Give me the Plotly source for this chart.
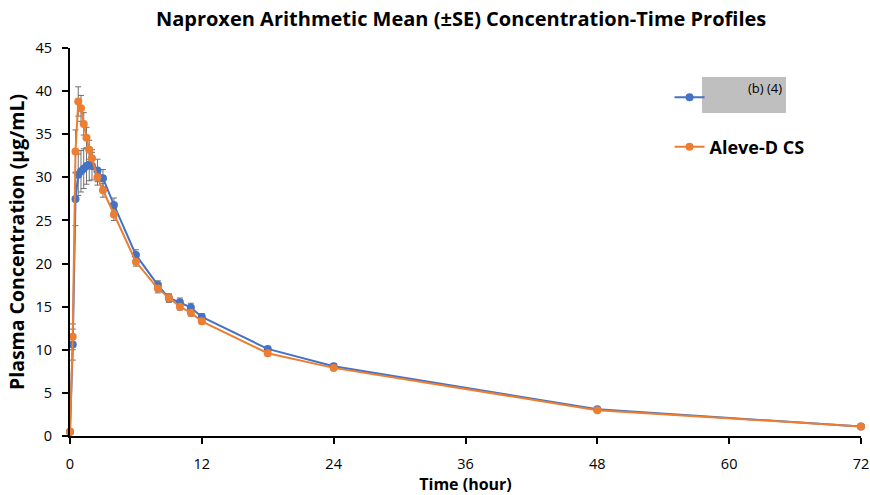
import plotly.graph_objects as go

time_h = [0, 0.25, 0.5, 0.75, 1, 1.25, 1.5, 1.75, 2, 2.5, 3, 4, 6, 8, 9, 10, 11, 12, 18, 24, 48, 72]

blue_mean = [0.5, 10.6, 27.5, 30.3, 30.7, 31.0, 31.3, 31.5, 31.3, 30.8, 29.9, 26.8, 21.0, 17.5, 16.0, 15.5, 14.9, 13.8, 10.1, 8.1, 3.1, 1.1]
blue_se = [0.0, 1.8, 3.1, 2.4, 2.4, 2.3, 2.1, 1.9, 1.6, 1.3, 1.0, 0.8, 0.6, 0.5, 0.5, 0.5, 0.5, 0.4, 0.3, 0.3, 0.2, 0.1]

orange_mean = [0.5, 11.5, 33.0, 38.8, 38.0, 36.2, 34.6, 33.2, 32.2, 30.0, 28.5, 25.7, 20.2, 17.1, 16.0, 15.0, 14.3, 13.3, 9.6, 7.9, 3.0, 1.1]
orange_se = [0.0, 1.5, 2.5, 1.7, 1.5, 1.3, 1.2, 1.1, 1.0, 0.9, 0.8, 0.7, 0.5, 0.5, 0.4, 0.4, 0.4, 0.3, 0.3, 0.2, 0.2, 0.1]

x_ticks = [0, 12, 24, 36, 48, 60, 72]
y_ticks = [0, 5, 10, 15, 20, 25, 30, 35, 40, 45]

BLUE = "#4472C4"
ORANGE = "#ED7D31"
FONT = "Open Sans"

fig = go.Figure()
fig.add_trace(go.Scatter(
    x=time_h, y=blue_mean, mode="lines+markers", name=" ",
    line=dict(color=BLUE, width=2), marker=dict(color=BLUE, size=8),
    error_y=dict(type="data", array=blue_se, visible=True, color="#6f6f6f", thickness=1, width=3),
    legendgroup="a", cliponaxis=False,
))
fig.add_trace(go.Scatter(
    x=time_h, y=orange_mean, mode="lines+markers", name="<b>Aleve-D CS</b>",
    line=dict(color=ORANGE, width=2), marker=dict(color=ORANGE, size=8),
    error_y=dict(type="data", array=orange_se, visible=True, color="#6f6f6f", thickness=1, width=3),
    legendgroup="b", cliponaxis=False,
))

fig.update_layout(
    width=870, height=495,
    margin=dict(l=70, r=9, t=48, b=59, autoexpand=False),
    paper_bgcolor="white", plot_bgcolor="white",
    font=dict(family=FONT, color="#000000", size=14),
    title=dict(text="<b>Naproxen Arithmetic Mean (±SE) Concentration-Time Profiles</b>",
               x=0.530, xanchor="center", y=0.962, yanchor="middle",
               font=dict(size=20, family=FONT)),
    showlegend=True,
    legend=dict(x=0.758, y=0.92, xanchor="left", yanchor="top",
                font=dict(size=18, family=FONT), tracegroupgap=23,
                traceorder="grouped", bgcolor="rgba(0,0,0,0)", itemwidth=30),
    xaxis=dict(range=[0, 72], tickmode="array", tickvals=x_ticks, automargin=True,
               showline=True, linecolor="black", linewidth=2,
               ticks="outside", ticklen=6, tickcolor="black", tickwidth=2,
               showgrid=False, zeroline=False,
               tickfont=dict(size=14.5, family=FONT), ticklabelstandoff=8,
               tickprefix="<b>", ticksuffix="</b>",
               title=dict(text="<b>Time (hour)</b>", font=dict(size=16, family=FONT), standoff=6)),
    yaxis=dict(range=[0, 45], tickmode="array", tickvals=y_ticks, automargin=False,
               showline=True, linecolor="black", linewidth=2,
               ticks="outside", ticklen=6, tickcolor="black", tickwidth=2,
               showgrid=False, zeroline=False,
               tickfont=dict(size=14.5, family=FONT), tickprefix="<b>", ticksuffix="</b>",
               ticklabelstandoff=7,
               title=dict(text="<b>Plasma Concentration (µg/mL)</b>", font=dict(size=19.5, family=FONT), standoff=6)),
)

# redaction box over first legend label
fig.add_shape(type="rect", xref="paper", yref="paper",
              x0=(702 - 70) / 791, x1=(786 - 70) / 791,
              y0=(436 - 113) / 388, y1=(436 - 77) / 388,
              fillcolor="#BFBFBF", line=dict(width=0), layer="above")
fig.add_annotation(xref="paper", yref="paper", x=(786 - 70) / 791 - 0.003, y=(436 - 77) / 388,
                   xanchor="right", yanchor="top", text="(b) (4)", showarrow=False,
                   font=dict(size=13, family=FONT, color="#000000"))

fig.write_html("out.html", post_script="document.body.style.margin='0';",
               config={"displayModeBar": False})
